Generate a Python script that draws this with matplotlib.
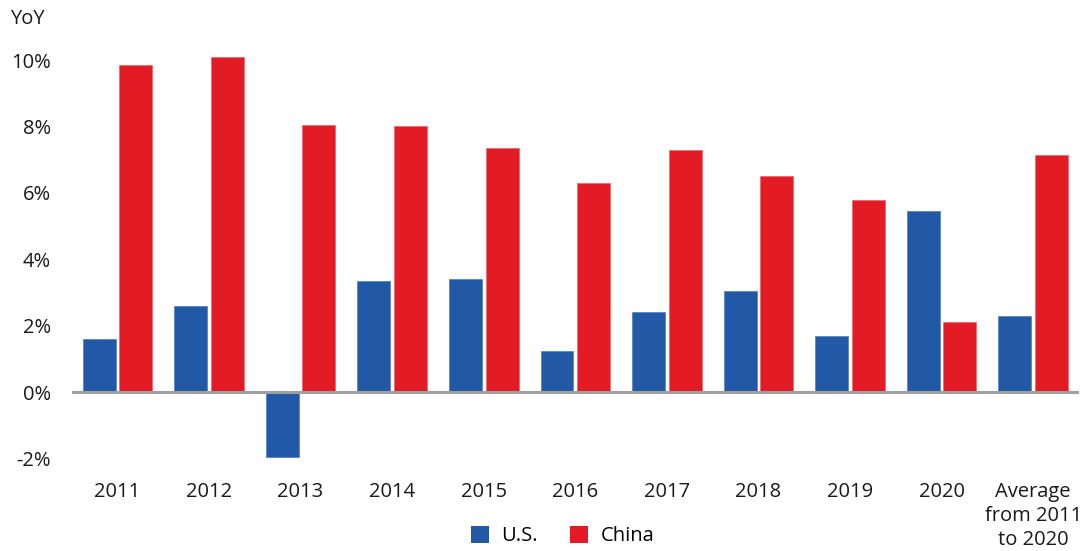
import numpy as np
import matplotlib.pyplot as plt
from matplotlib.patches import Patch

# category labels and yoy growth values (%)
categories = ['2011', '2012', '2013', '2014', '2015', '2016', '2017', '2018',
              '2019', '2020', 'Average\nfrom 2011\nto 2020']
us_values = [1.6, 2.6, -1.95, 3.35, 3.4, 1.25, 2.4, 3.05, 1.7, 5.45, 2.3]
china_values = [9.85, 10.1, 8.05, 8.0, 7.35, 6.3, 7.3, 6.5, 5.8, 2.1, 7.15]
y_ticks = [-2, 0, 2, 4, 6, 8, 10]

blue = '#2259a6'
red = '#e21b24'

plt.rcParams['font.family'] = ['Open Sans', 'DejaVu Sans']

fig = plt.figure(figsize=(10.86, 5.51), dpi=100)
ax = fig.add_axes([0.066, 0.156, 0.9275, 0.753])

x = np.arange(len(categories))
width = 0.36
offset = 0.2

ax.bar(x - offset, us_values, width, color=blue, edgecolor='#5a86c4', linewidth=0.6)
ax.bar(x + offset, china_values, width, color=red, edgecolor='#ee6a70', linewidth=0.6)

ax.axhline(0, color='#a0a0a0', linewidth=2.2, zorder=3)

ax.set_xlim(-0.5, 10.5)
ax.set_ylim(-2.2, 10.3)

ax.set_yticks(y_ticks)
ax.set_yticklabels(['%d%%' % v for v in y_ticks], fontsize=14.5, color='#1a1a1a')
ax.set_xticks(x)
ax.set_xticklabels(categories, fontsize=14.5, color='#1a1a1a', linespacing=1.28, va='top')

ax.tick_params(axis='y', length=0, pad=15)
ax.tick_params(axis='x', length=0, pad=12)

for side in ['top', 'right', 'left', 'bottom']:
    ax.spines[side].set_visible(False)

fig.text(0.009, 0.965, 'YoY', fontsize=14.5, color='#1a1a1a', va='center', ha='left')

handles = [Patch(facecolor=blue, label='U.S.'), Patch(facecolor=red, label='China')]
fig.legend(handles=handles, loc='center', bbox_to_anchor=(0.518, 0.027), ncol=2,
           frameon=False, fontsize=14.5, handlelength=0.9, handleheight=0.9,
           handletextpad=0.6, columnspacing=1.6)

fig.savefig('out.png', dpi=100)
